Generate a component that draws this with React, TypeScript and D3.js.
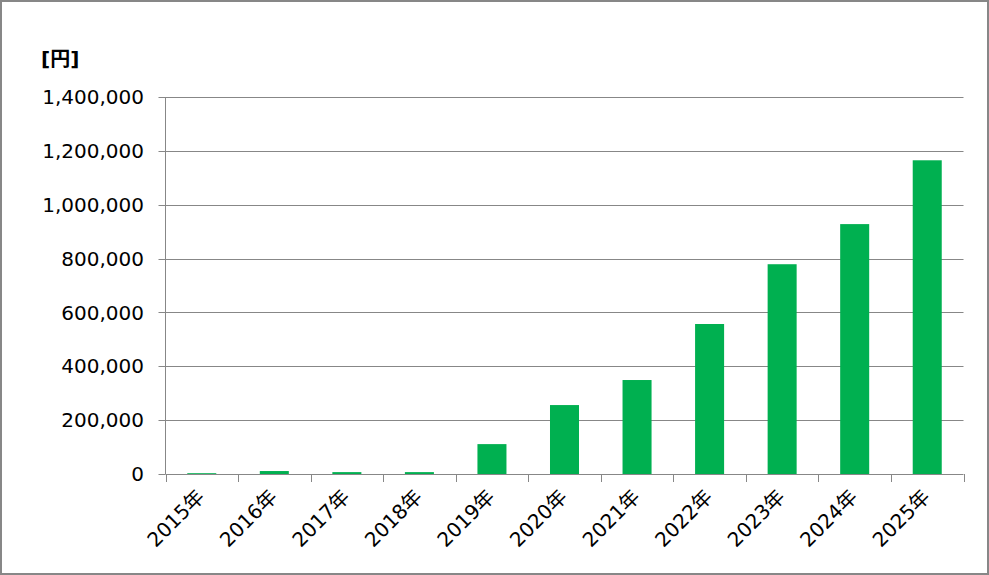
import React from "react";
import * as d3 from "d3";

const categories = ["2015年", "2016年", "2017年", "2018年", "2019年", "2020年", "2021年", "2022年", "2023年", "2024年", "2025年"];
const values = [3000, 11000, 7000, 7000, 111000, 256000, 349000, 557000, 779000, 928000, 1165000];
const yTicks = [0, 200000, 400000, 600000, 800000, 1000000, 1200000, 1400000];
const unitLabel = "[円]";

const W = 989;
const H = 575;
const left = 165.5;
const right = 963.5;
const top = 97;
const bottom = 474;
const FONT = "'DejaVu Sans', 'Noto Sans CJK JP', sans-serif";
const GRID = "#878787";

export default function App() {
  const x = d3.scaleBand<string>().domain(categories).range([left, right]).paddingInner(0.6).paddingOuter(0.3);
  const y = d3.scaleLinear().domain([0, 1400000]).range([bottom, top]);
  const fmt = d3.format(",");
  const step = (right - left) / categories.length;
  const boundaries = d3.range(categories.length + 1).map((i) => left + i * step);

  return (
    <div style={{ position: "fixed", left: 0, top: 0 }}>
      <svg width={W} height={H} style={{ display: "block", background: "#fff" }}>
        <rect x={1} y={1} width={W - 2} height={H - 2} fill="#fff" stroke={GRID} strokeWidth={2} />
        <text x={41} y={66} fontFamily={FONT} fontSize={20} fontWeight="bold" fill="#000">
          {unitLabel}
        </text>
        {yTicks.map((t) => (
          <g key={t}>
            <line x1={left - 7} x2={t === 0 ? left : right} y1={Math.round(y(t)) + 0.5} y2={Math.round(y(t)) + 0.5} stroke={GRID} strokeWidth={1} />
            <text x={144} y={y(t)} dy="0.36em" textAnchor="end" fontFamily={FONT} fontSize={20} fill="#000">
              {fmt(t)}
            </text>
          </g>
        ))}
        {categories.map((c, i) => (
          <rect key={c} x={x(c)} y={y(values[i])} width={x.bandwidth()} height={bottom - y(values[i])} fill="#00B050" />
        ))}
        <line x1={left} x2={left} y1={top} y2={bottom} stroke={GRID} strokeWidth={1} />
        <line x1={left} x2={right} y1={bottom + 0.5} y2={bottom + 0.5} stroke={GRID} strokeWidth={1} />
        {boundaries.map((b, i) => (
          <line key={i} x1={Math.round(b) + 0.5} x2={Math.round(b) + 0.5} y1={bottom} y2={bottom + 8} stroke={GRID} strokeWidth={1} />
        ))}
        {categories.map((c) => {
          const cx = (x(c) as number) + x.bandwidth() / 2 + 4;
          const cy = bottom + 24;
          return (
            <text key={c} x={cx} y={cy} textAnchor="end" transform={`rotate(-45 ${cx} ${cy})`} fontFamily={FONT} fontSize={20} fill="#000">
              {c}
            </text>
          );
        })}
      </svg>
    </div>
  );
}
